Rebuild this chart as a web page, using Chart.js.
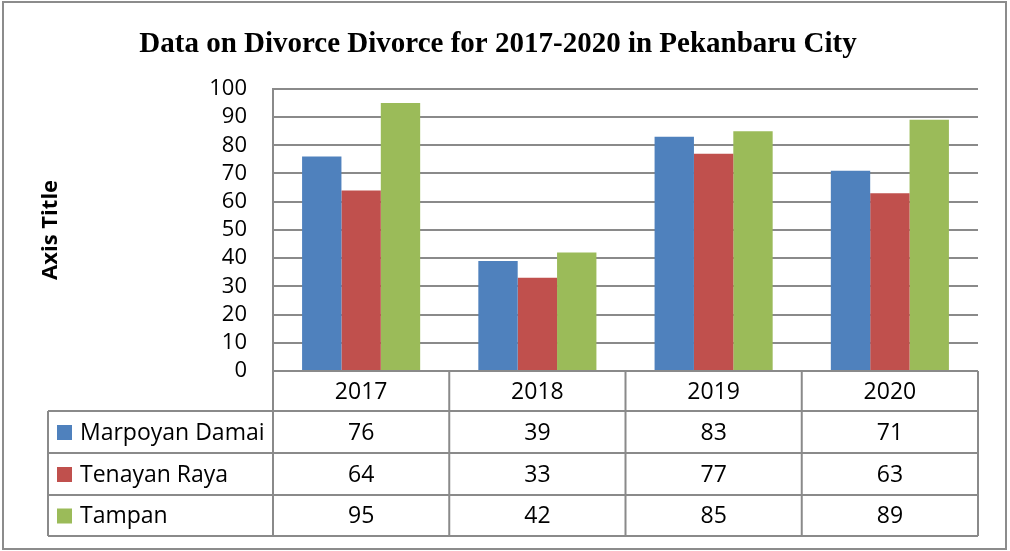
<!DOCTYPE html>
<html>
<head>
<meta charset="utf-8">
<script src="https://cdn.jsdelivr.net/npm/chart.js@4/dist/chart.umd.min.js"></script>
<style>
  html, body { margin: 0; padding: 0; background: #fff; }
  #wrap { width: 1010px; height: 551px; }
</style>
</head>
<body>
<div id="wrap"><canvas id="divorce-chart" width="1010" height="551"></canvas></div>
<script>
// data
const years = ["2017", "2018", "2019", "2020"];
const marpoyanDamai = [76, 39, 83, 71];
const tenayanRaya = [64, 33, 77, 63];
const tampan = [95, 42, 85, 89];
const yTicks = [0, 10, 20, 30, 40, 50, 60, 70, 80, 90, 100];

const seriesNames = ["Marpoyan Damai", "Tenayan Raya", "Tampan"];
const seriesColors = ["#4F81BD", "#C0504D", "#9BBB59"];
const seriesData = [marpoyanDamai, tenayanRaya, tampan];

const lineGray = "#8a8a8a";
const bodyFont = "'Open Sans', 'Liberation Sans', sans-serif";

// white background + outer frame
const framePlugin = {
  id: "frame",
  beforeDraw(chart) {
    const c = chart.ctx;
    c.save();
    c.fillStyle = "#fff";
    c.fillRect(0, 0, chart.width, chart.height);
    c.strokeStyle = "#8c8c8c";
    c.lineWidth = 2;
    c.strokeRect(3, 2, 1003, 547);
    c.restore();
  }
};

// data table under the plot (like excel's "show data table")
const dataTablePlugin = {
  id: "dataTable",
  afterDraw(chart) {
    const c = chart.ctx;
    const x = chart.scales.x;
    const area = chart.chartArea;
    const colW = (area.right - area.left) / years.length;
    const rowY = [area.bottom, area.bottom + 40, area.bottom + 82, area.bottom + 124, area.bottom + 165];
    const tableLeft = 48;

    c.save();
    c.strokeStyle = lineGray;
    c.lineWidth = 2;

    // horizontal lines
    c.beginPath();
    c.moveTo(area.left, rowY[0]); c.lineTo(area.right, rowY[0]);
    for (let r = 1; r < rowY.length; r++) {
      c.moveTo(tableLeft, rowY[r]); c.lineTo(area.right, rowY[r]);
    }
    // vertical lines
    c.moveTo(tableLeft, rowY[1]); c.lineTo(tableLeft, rowY[4]);
    for (let i = 0; i <= years.length; i++) {
      const vx = area.left + i * colW;
      c.moveTo(vx, rowY[0]); c.lineTo(vx, rowY[4]);
    }
    c.stroke();

    c.font = "23px " + bodyFont;
    c.fillStyle = "#000";
    c.textBaseline = "middle";
    c.textAlign = "center";

    years.forEach((yr, i) => {
      const cx = x.getPixelForValue(i);
      c.fillText(yr, cx, (rowY[0] + rowY[1]) / 2 + 1);
    });

    seriesData.forEach((vals, s) => {
      const cy = (rowY[s + 1] + rowY[s + 2]) / 2 + 1;
      vals.forEach((v, i) => {
        c.textAlign = "center";
        c.fillText(String(v), x.getPixelForValue(i), cy);
      });
      // legend key + name
      c.fillStyle = seriesColors[s];
      c.fillRect(57, cy - 8, 15, 15);
      c.fillStyle = "#000";
      c.textAlign = "left";
      c.fillText(seriesNames[s], 80, cy);
    });
    c.restore();
  }
};

const ctx = document.getElementById("divorce-chart").getContext("2d");

const divorceChart = new Chart(ctx, {
  type: "bar",
  data: {
    labels: years,
    datasets: seriesData.map((vals, s) => ({
      label: seriesNames[s],
      data: vals,
      backgroundColor: seriesColors[s],
      borderWidth: 0,
      categoryPercentage: 0.67,
      barPercentage: 1
    }))
  },
  options: {
    responsive: false,
    animation: false,
    layout: { padding: { top: 0, left: 18, right: 32, bottom: 180 } },
    plugins: {
      legend: { display: false },
      tooltip: { enabled: false },
      title: {
        display: true,
        text: "Data on Divorce Divorce for 2017-2020 in Pekanbaru City",
        color: "#000",
        font: { family: "'Liberation Serif', 'Times New Roman', serif", size: 29, weight: "bold" },
        padding: { top: 27, bottom: 27 }
      }
    },
    scales: {
      x: {
        display: false
      },
      y: {
        min: 0,
        max: 100,
        afterBuildTicks(scale) {
          scale.ticks = yTicks.map(v => ({ value: v }));
        },
        afterFit(scale) {
          scale.width = 273 - 18;
        },
        ticks: {
          color: "#000",
          padding: 26,
          autoSkip: false,
          font: { family: bodyFont, size: 22 }
        },
        grid: { color: lineGray, lineWidth: 2, drawTicks: false },
        border: { color: lineGray, width: 2 },
        title: {
          display: true,
          text: "Axis Title",
          color: "#000",
          font: { family: bodyFont, size: 22, weight: "bold" },
          padding: { top: 20, bottom: 0 }
        }
      }
    }
  },
  plugins: [framePlugin, dataTablePlugin]
});
</script>
</body>
</html>
